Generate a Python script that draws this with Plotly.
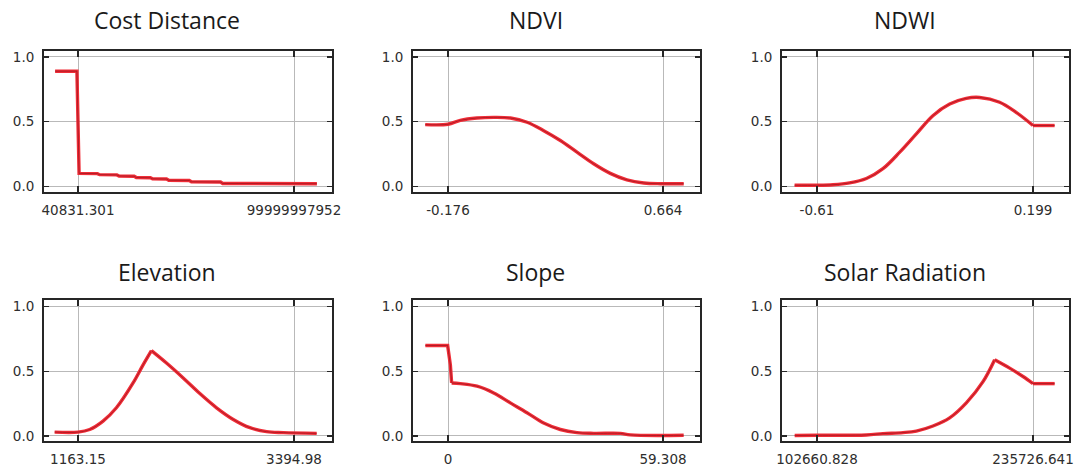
import plotly.graph_objects as go

# ---------------- data ----------------
titles = ["Cost Distance", "NDVI", "NDWI", "Elevation", "Slope", "Solar Radiation"]

tick_lo = [40831.301, -0.176, -0.61, 1163.15, 0.0, 102660.828]
tick_hi = [99999997952.0, 0.664, 0.199, 3394.98, 59.308, 235726.641]
tick_lo_text = ["40831.301", "-0.176", "-0.61", "1163.15", "0", "102660.828"]
tick_hi_text = ["99999997952", "0.664", "0.199", "3394.98", "59.308", "235726.641"]

cost_x = [-10.6e9, -0.5e9, 0.5e9, 3.2e9, 9.0e9, 10.0e9, 18.0e9, 19.0e9, 26.0e9, 27.0e9,
          33.5e9, 34.5e9, 41.0e9, 42.0e9, 51.5e9, 52.5e9, 66.0e9, 67.0e9, 110.6e9]
cost_y = [0.89, 0.89, 0.10, 0.10, 0.098, 0.09, 0.088, 0.08, 0.078, 0.068,
          0.066, 0.058, 0.056, 0.047, 0.045, 0.035, 0.033, 0.022, 0.02]

ndvi_x = [-0.265, -0.176, -0.128, -0.063, 0.002, 0.068, 0.133, 0.198, 0.263, 0.328,
          0.393, 0.458, 0.523, 0.589, 0.654, 0.745]
ndvi_y = [0.477, 0.48, 0.51, 0.528, 0.533, 0.528, 0.495, 0.43, 0.354, 0.264,
          0.174, 0.10, 0.05, 0.026, 0.02, 0.02]

ndwi_x = [-0.694, -0.612, -0.550, -0.488, -0.425, -0.363, -0.300, -0.238, -0.176, -0.113,
          -0.051, -0.001, 0.074, 0.137, 0.199, 0.280]
ndwi_y = [0.008, 0.008, 0.012, 0.026, 0.06, 0.136, 0.264, 0.405, 0.546, 0.636,
          0.68, 0.687, 0.65, 0.57, 0.47, 0.47]

elev_x = [921.7, 1163.15, 1283.9, 1421.9, 1559.8, 1732.3, 1835.8, 1922.0, 2077.3, 2249.7,
          2422.2, 2594.7, 2767.2, 2939.6, 3112.1, 3284.6, 3629.5]
elev_y = [0.03, 0.03, 0.05, 0.115, 0.218, 0.41, 0.55, 0.66, 0.564, 0.449,
          0.328, 0.218, 0.128, 0.064, 0.033, 0.026, 0.02]

slope_x = [-6.25, -0.1, 0.65, 1.0, 3.40, 8.0, 12.6, 17.19, 21.79, 26.39,
           30.99, 35.58, 40.18, 47.54, 50.30, 65.01]
slope_y = [0.70, 0.70, 0.55, 0.41, 0.405, 0.385, 0.333, 0.256, 0.18, 0.10,
           0.05, 0.026, 0.02, 0.02, 0.008, 0.005]

solar_x = [88902.8, 102660.8, 133052, 143320, 155641, 163855, 174122, 184390, 194657, 204925,
           212112, 221353, 229566, 235726.6, 249074]
solar_y = [0.003, 0.005, 0.008, 0.018, 0.026, 0.038, 0.077, 0.14, 0.256, 0.42,
           0.59, 0.525, 0.46, 0.405, 0.405]

series_x = [cost_x, ndvi_x, ndwi_x, elev_x, slope_x, solar_x]
series_y = [cost_y, ndvi_y, ndwi_y, elev_y, slope_y, solar_y]

# line drawing style per panel: (start index, end index, shape); corners stay sharp
segments = [
    [(0, 19, "linear")],
    [(0, 16, "spline")],
    [(0, 15, "spline"), (14, 16, "linear")],
    [(0, 8, "spline"), (7, 17, "spline")],
    [(0, 4, "linear"), (3, 16, "spline")],
    [(0, 11, "spline"), (10, 14, "spline"), (13, 15, "linear")],
]

# ---------------- layout geometry (pixels) ----------------
W, H = 1076, 474
col_px = [(44, 332, 78, 294), (413, 700, 448, 663), (782, 1069, 817, 1033)]
row_px = [(51, 192), (300, 441)]
row_yrange = [(-0.044, 1.046), (-0.039, 1.052)]
title_y_px = [20, 272]

fig = go.Figure()
annotations = []
layout_axes = {}

for i in range(6):
    r, c = divmod(i, 3)
    left, right, g1, g2 = col_px[c]
    top, bottom = row_px[r]
    a, b = tick_lo[i], tick_hi[i]
    span = b - a
    lo = a - (g1 - left) / (g2 - g1) * span
    hi = b + (right - g2) / (g2 - g1) * span
    n = "" if i == 0 else str(i + 1)

    for (s, e, shape) in segments[i]:
        xs, ys = series_x[i][s:e], series_y[i][s:e]
        fig.add_trace(go.Scatter(
            x=xs, y=ys, mode="lines",
            line=dict(color="rgb(240,45,55)", width=3.4, shape=shape, smoothing=1.0),
            xaxis="x" + n, yaxis="y" + n, showlegend=False, hoverinfo="skip"))
        fig.add_trace(go.Scatter(
            x=xs, y=ys, mode="lines",
            line=dict(color="rgba(150,20,30,0.7)", width=1.0, shape=shape, smoothing=1.0),
            xaxis="x" + n, yaxis="y" + n, showlegend=False, hoverinfo="skip"))

    common = dict(
        showline=True, linecolor="#262626", linewidth=2, mirror="allticks",
        ticks="inside", tickcolor="#262626", tickwidth=1.5,
        showgrid=True, gridcolor="#b9b9b9", gridwidth=1, zeroline=False,
        tickfont=dict(family="DejaVu Sans", size=13.5, color="#2e2e2e"),
        fixedrange=True, automargin=False,
    )
    layout_axes["xaxis" + n] = dict(
        common, domain=[left / W, right / W], range=[lo, hi],
        tickmode="array", tickvals=[a, b], ticktext=[tick_lo_text[i], tick_hi_text[i]],
        ticklen=6, ticklabelstandoff=5, anchor="y" + n)
    layout_axes["yaxis" + n] = dict(
        common, domain=[1 - bottom / H, 1 - top / H], range=list(row_yrange[r]),
        tickmode="array", tickvals=[0, 0.5, 1.0], ticktext=["0.0", "0.5", "1.0"],
        ticklen=5, ticklabelstandoff=5, anchor="x" + n)

    annotations.append(dict(
        text=titles[i], xref="paper", yref="paper",
        x=((left + right) / 2 - 21) / W, y=1 - title_y_px[r] / H,
        xanchor="center", yanchor="middle", showarrow=False,
        font=dict(family="Open Sans", size=23, color="#1a1a1a")))

fig.update_layout(
    width=W, height=H, margin=dict(l=0, r=0, t=0, b=0),
    paper_bgcolor="white", plot_bgcolor="white",
    annotations=annotations, **layout_axes)

fig.write_html(
    "out.html",
    config={"displayModeBar": False, "staticPlot": True},
    post_script="document.body.style.margin='0';document.body.style.padding='0';"
                "document.body.style.overflow='hidden';")
